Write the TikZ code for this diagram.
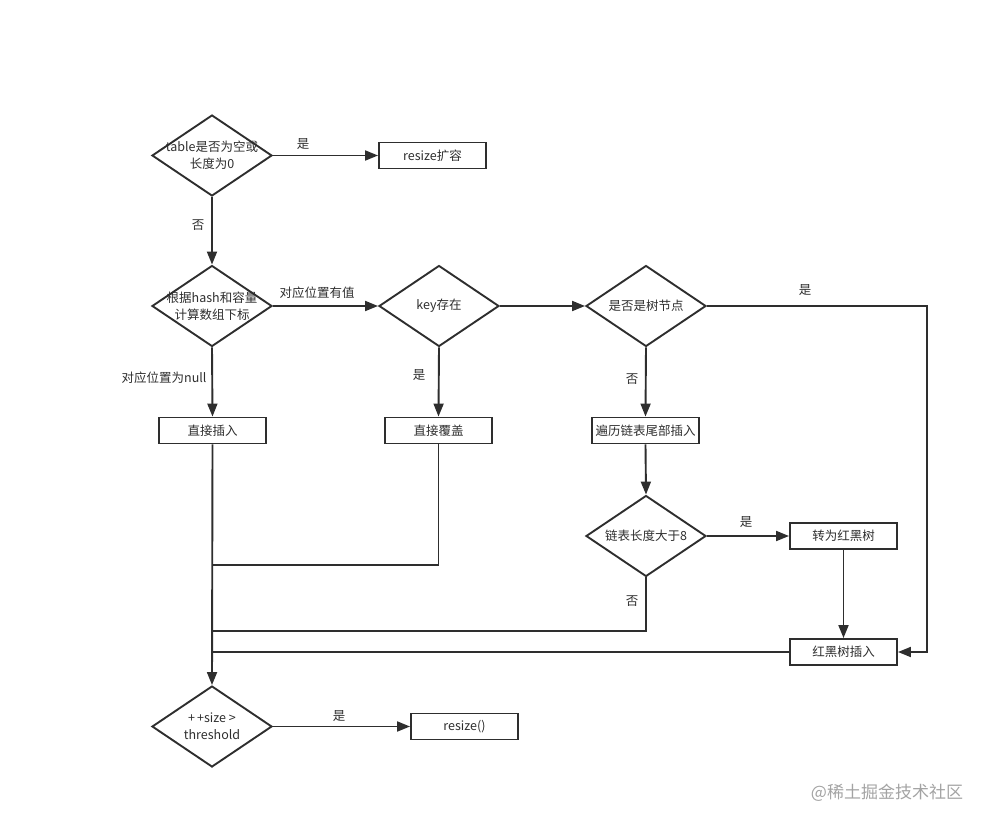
\documentclass[tikz,border=0pt]{standalone}
\usepackage{fontspec}
\setmainfont{Noto Sans CJK SC}
\usetikzlibrary{shapes.geometric,arrows.meta}
\definecolor{ink}{HTML}{2E2E2E}
\definecolor{mark}{HTML}{A3A3A3}

\begin{document}
\begin{tikzpicture}[x=1pt, y=-1pt,
    every node/.style={font=\fontsize{12.5}{17}\selectfont, text=ink},
    dia/.style={draw=ink, line width=1.9pt, shape=diamond, inner sep=0pt,
                minimum width=120pt, minimum height=81pt},
    dtxt/.style={align=center, inner sep=0pt},
    box/.style={draw=ink, line width=1.9pt, inner sep=0pt,
                minimum width=107pt, minimum height=26pt},
    arr/.style={draw=ink, line width=1.9pt, -{Triangle[length=13pt,width=10pt]}},
    wire/.style={draw=ink, line width=1.5pt}
   ]

    \useasboundingbox (0,0) rectangle (989,827);

    % decisions
    \node[dia, label={[dtxt]center:{table是否为空或\\长度为0}}] (isEmpty) at (212,155.5) {};
    \node[dia, label={[dtxt]center:{根据hash和容量\\计算数组下标}}] (hashIdx) at (212,306) {};
    \node[dia, label={[dtxt]center:key存在}] (keyExist) at (439,306) {};
    \node[dia, label={[dtxt]center:是否是树节点}] (isTree) at (646,306) {};
    \node[dia, label={[dtxt]center:链表长度大于8}] (longer8) at (646,536) {};
    \node[dia, label={[dtxt]center:{+\,+size >\\threshold}}] (overTh) at (212,726.5) {};

    % actions
    \node[box] (resizeA) at (432.5,155.5) {resize扩容};
    \node[box] (direct) at (212.5,430.5) {直接插入};
    \node[box] (cover) at (438.5,430.5) {直接覆盖};
    \node[box] (tailIns) at (645.5,430.5) {遍历链表尾部插入};
    \node[box] (toTree) at (843.5,536) {转为红黑树};
    \node[box] (treeIns) at (843.5,652) {红黑树插入};
    \node[box] (resizeB) at (464.5,726.5) {resize()};

    \coordinate (turn) at (927,306);
    \coordinate (j1) at (212,565);
    \coordinate (j2) at (212,631);
    \coordinate (j3) at (212,652);

    \draw[arr] (isEmpty.east) -- (resizeA.west);
    \draw[arr] (isEmpty.south) -- (hashIdx.north);
    \draw[arr] (hashIdx.east) -- (keyExist.west);
    \draw[arr] (keyExist.east) -- (isTree.west);
    \draw[arr] (hashIdx.south) -- (direct.north);
    \draw[arr] (keyExist.south) -- (cover.north);
    \draw[arr] (isTree.south) -- (tailIns.north);
    \draw[arr] (isTree.east) -- (turn) |- (treeIns.east);
    \draw[arr] (tailIns.south) -- (longer8.north);
    \draw[arr] (longer8.east) -- (toTree.west);
    \draw[arr] (toTree.south) -- (treeIns.north);
    \draw[arr] (direct.south) -- (overTh.north);
    \draw[arr] (overTh.east) -- (resizeB.west);

    % back to the trunk
    \draw[wire] (cover.south) |- (j1);
    \draw[wire] (longer8.south) |- (j2);
    \draw[wire] (treeIns.west) -- (j3);

    % branch labels
    \node (y1) at (303,144) {是};
    \node (n1) at (198,225) {否};
    \node (v1) at (317,293) {对应位置有值};
    \node[anchor=east] (v2) at (210,378) {对应位置为null};
    \node (y2) at (419,375) {是};
    \node (y3) at (805,290) {是};
    \node (n2) at (632,379) {否};
    \node (y4) at (746,522) {是};
    \node (n3) at (632,601) {否};
    \node (y5) at (339,716) {是};

    \node[font=\fontsize{17}{20}\selectfont, text=mark] (wm) at (887,793) {@稀土掘金技术社区};

\end{tikzpicture}
\end{document}
